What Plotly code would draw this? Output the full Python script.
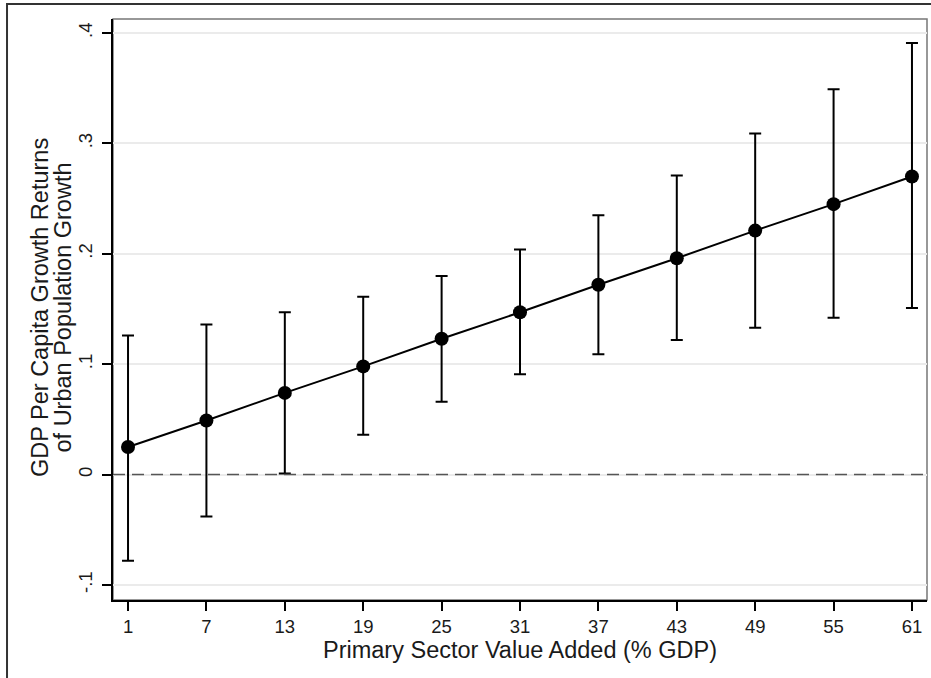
import plotly.graph_objects as go

x_vals = [1, 7, 13, 19, 25, 31, 37, 43, 49, 55, 61]
estimate = [0.025, 0.049, 0.074, 0.098, 0.123, 0.147, 0.172, 0.196, 0.221, 0.245, 0.270]
ci_low = [-0.078, -0.038, 0.001, 0.036, 0.066, 0.091, 0.109, 0.122, 0.133, 0.142, 0.151]
ci_high = [0.126, 0.136, 0.147, 0.161, 0.180, 0.204, 0.235, 0.271, 0.309, 0.349, 0.391]
y_ticks = [-0.1, 0, 0.1, 0.2, 0.3, 0.4]
y_tick_labels = ["-.1", "0", ".1", ".2", ".3", ".4"]
y_title_lines = ["GDP Per Capita Growth Returns", "of Urban Population Growth"]
x_title = "Primary Sector Value Added (% GDP)"

err_plus = [h - e for h, e in zip(ci_high, estimate)]
err_minus = [e - l for e, l in zip(estimate, ci_low)]

fig = go.Figure()
fig.add_trace(go.Scatter(
    x=x_vals, y=estimate, mode="lines+markers",
    line=dict(color="black", width=2),
    marker=dict(color="black", size=14),
    error_y=dict(type="data", symmetric=False, array=err_plus, arrayminus=err_minus,
                 color="black", thickness=2, width=6),
    showlegend=False,
))

FONT = "Liberation Sans, Arial, sans-serif"
fig.update_layout(
    width=931, height=678,
    margin=dict(l=113, r=4, t=19, b=78),
    paper_bgcolor="white", plot_bgcolor="white",
    font=dict(family=FONT, size=18, color="#1a1a1a"),
    xaxis=dict(
        range=[-0.15, 62.15], tickvals=x_vals, ticktext=[str(v) for v in x_vals],
        showgrid=False, zeroline=False, showline=True, linecolor="black", linewidth=2,
        ticks="outside", ticklen=9, tickwidth=1.5, tickcolor="black",
        tickfont=dict(size=18.5),
        title=dict(text=x_title, font=dict(size=23.5), standoff=3),
    ),
    yaxis=dict(
        range=[-0.1136, 0.4127], tickvals=y_ticks, ticktext=y_tick_labels, tickangle=-90,
        showgrid=True, gridcolor="#ebebeb", gridwidth=1.5, zeroline=False,
        showline=True, linecolor="black", linewidth=2,
        ticks="outside", ticklen=9, tickwidth=1.5, tickcolor="black",
        tickfont=dict(size=18.5), ticklabelstandoff=3,
    ),
    annotations=[
        dict(text=y_title_lines[0], xref="paper", yref="paper", x=(40 - 113) / 814, y=0.5026,
             xanchor="center", yanchor="middle", textangle=-90, showarrow=False,
             font=dict(size=23.5)),
        dict(text=y_title_lines[1], xref="paper", yref="paper", x=(62.5 - 113) / 814, y=0.5026,
             xanchor="center", yanchor="middle", textangle=-90, showarrow=False,
             font=dict(size=23.5)),
    ],
    shapes=[
        dict(type="rect", xref="paper", yref="paper", x0=0, x1=1, y0=0, y1=1,
             line=dict(color="#777777", width=1.5), layer="below"),
        dict(type="line", xref="paper", yref="y", x0=0, x1=1, y0=0, y1=0,
             line=dict(color="#555555", width=1.5, dash="12px,7px"), layer="above"),
        dict(type="rect", xref="paper", yref="paper", x0=-0.1302, x1=1.05, y0=-0.2, y1=1.0258,
             line=dict(color="#333333", width=2)),
    ],
)

fig.write_html("out.html", config={"displayModeBar": False},
               post_script="document.body.style.margin='0';")
